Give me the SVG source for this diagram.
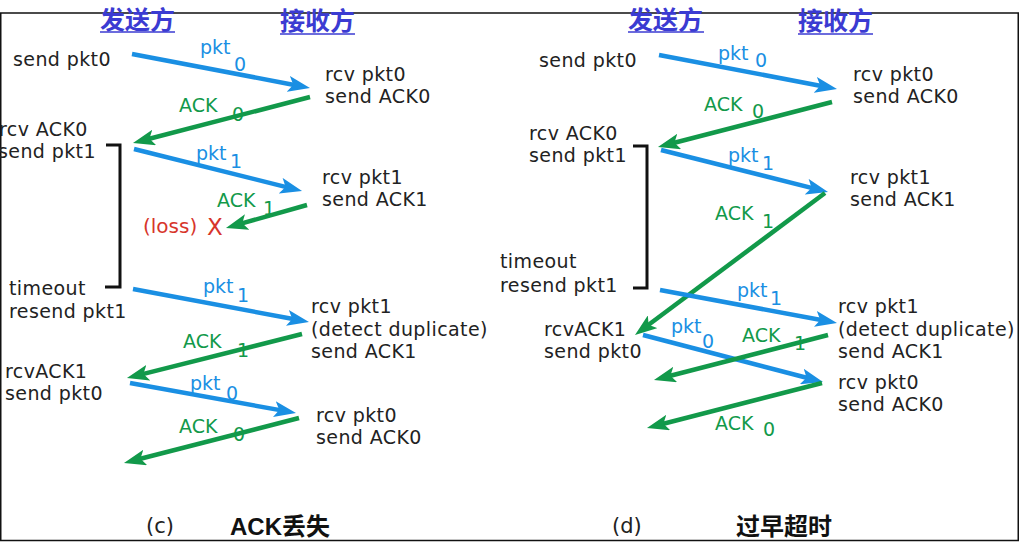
<svg xmlns="http://www.w3.org/2000/svg" width="1023" height="547" viewBox="0 0 1023 547">
<style>
.t{font-family:"DejaVu Sans","Liberation Sans",sans-serif;font-size:19px;letter-spacing:0.4px;fill:#222}
.b{font-family:"DejaVu Sans","Liberation Sans",sans-serif;font-size:19px;fill:#1a8fe3}
.g{font-family:"DejaVu Sans","Liberation Sans",sans-serif;font-size:19px;fill:#12994a}
.h{font-family:"Noto Sans CJK SC",sans-serif;font-size:25px;font-weight:bold;fill:#3b3bd2}
.cap{font-family:"Liberation Sans","Noto Sans CJK SC",sans-serif;font-size:24px;font-weight:bold;fill:#111}
.pc{font-family:"DejaVu Sans","Liberation Sans",sans-serif;font-size:21px;fill:#222}
.lb{stroke:#1a8fe3;stroke-width:4.5;fill:none}
.lg{stroke:#12994a;stroke-width:4.5;fill:none}
.br{stroke:#111;stroke-width:3;fill:none}
</style>
<defs>
<marker id="ab" markerUnits="userSpaceOnUse" viewBox="0 0 22 16" markerWidth="22" markerHeight="16" refX="10" refY="8" orient="auto"><path d="M0,0 L22,8 L0,16 L5,8 Z" fill="#1a8fe3"/></marker>
<marker id="ag" markerUnits="userSpaceOnUse" viewBox="0 0 22 16" markerWidth="22" markerHeight="16" refX="10" refY="8" orient="auto"><path d="M0,0 L22,8 L0,16 L5,8 Z" fill="#12994a"/></marker>
</defs>
<rect x="0.75" y="13" width="1017.5" height="527.5" fill="#fff" stroke="#111" stroke-width="1.5"/>

<g id="headers">
<text class="h" x="100" y="29">发送方</text><line x1="100" y1="32" x2="175" y2="32" stroke="#3b3bd2" stroke-width="1.5"/>
<text class="h" x="280" y="30">接收方</text><line x1="280" y1="34" x2="355" y2="34" stroke="#3b3bd2" stroke-width="1.5"/>
<text class="h" x="628" y="29">发送方</text><line x1="628" y1="32" x2="704" y2="32" stroke="#3b3bd2" stroke-width="1.5"/>
<text class="h" x="798" y="30">接收方</text><line x1="798" y1="34" x2="873" y2="34" stroke="#3b3bd2" stroke-width="1.5"/>
</g>

<g id="connectors">
<line class="lb" x1="132" y1="54" x2="298.2" y2="85.7" marker-end="url(#ab)"/>
<line class="lg" x1="310" y1="97" x2="144.6" y2="140" marker-end="url(#ag)"/>
<line class="lb" x1="134" y1="149" x2="290.4" y2="188.1" marker-end="url(#ab)"/>
<line class="lg" x1="307" y1="205" x2="237.5" y2="224.7" marker-end="url(#ag)"/>
<line class="lb" x1="133" y1="289" x2="297.2" y2="319.8" marker-end="url(#ab)"/>
<line class="lg" x1="302" y1="334" x2="138.6" y2="375.1" marker-end="url(#ag)"/>
<line class="lb" x1="130" y1="383" x2="284.2" y2="410.9" marker-end="url(#ab)"/>
<line class="lg" x1="299" y1="418" x2="135.6" y2="460" marker-end="url(#ag)"/>
<line class="lb" x1="659" y1="55" x2="825.2" y2="86.7" marker-end="url(#ab)"/>
<line class="lg" x1="832" y1="102" x2="669.6" y2="144" marker-end="url(#ag)"/>
<line class="lb" x1="661" y1="150" x2="816.4" y2="189.1" marker-end="url(#ab)"/>
<line class="lg" x1="825" y1="193" x2="644.6" y2="327.8" marker-end="url(#ag)"/>
<line class="lb" x1="660" y1="290" x2="825.2" y2="320.8" marker-end="url(#ab)"/>
<line class="lb" x1="643" y1="335" x2="811.4" y2="379" marker-end="url(#ab)"/>
<line class="lg" x1="828" y1="335" x2="665.6" y2="377" marker-end="url(#ag)"/>
<line class="lg" x1="822" y1="383" x2="658.6" y2="425" marker-end="url(#ag)"/>
</g>

<g id="labels">
<text class="b" x="200" y="54">pkt</text><text class="b" x="234" y="71">0</text>
<text class="g" x="179" y="112">ACK</text><text class="g" x="232" y="121">0</text>
<text class="b" x="196" y="160">pkt</text><text class="b" x="230" y="168">1</text>
<text class="g" x="217" y="207">ACK</text><text class="g" x="263" y="215">1</text>
<text class="b" x="203" y="293">pkt</text><text class="b" x="237" y="302">1</text>
<text class="g" x="183" y="348">ACK</text><text class="g" x="237" y="357">1</text>
<text class="b" x="190" y="390">pkt</text><text class="b" x="226" y="400">0</text>
<text class="g" x="179" y="433">ACK</text><text class="g" x="233" y="441">0</text>

<text class="b" x="718" y="60">pkt</text><text class="b" x="755" y="67">0</text>
<text class="g" x="704" y="111">ACK</text><text class="g" x="752" y="118">0</text>
<text class="b" x="728" y="162">pkt</text><text class="b" x="762" y="170">1</text>
<text class="g" x="715" y="220">ACK</text><text class="g" x="762" y="228">1</text>
<text class="b" x="737" y="297">pkt</text><text class="b" x="770" y="305">1</text>
<text class="b" x="671" y="333">pkt</text><text class="b" x="702" y="348">0</text>
<text class="g" x="742" y="342">ACK</text><text class="g" x="794" y="350">1</text>
<text class="g" x="715" y="430">ACK</text><text class="g" x="763" y="436">0</text>
</g>

<g id="sender-c">
<text class="t" x="13" y="66">send pkt0</text>
<text class="t" x="-1" y="136">rcv ACK0</text>
<text class="t" x="-2" y="158">send pkt1</text>
<text class="t" x="9" y="295">timeout</text>
<text class="t" x="9" y="318">resend pkt1</text>
<text class="t" x="5" y="378">rcvACK1</text>
<text class="t" x="5" y="400">send pkt0</text>
<polyline class="br" points="106,145 120,145 120,287 105,287"/>
</g>
<g id="receiver-c">
<text class="t" x="325" y="81">rcv pkt0</text>
<text class="t" x="325" y="103">send ACK0</text>
<text class="t" x="322" y="184">rcv pkt1</text>
<text class="t" x="322" y="206">send ACK1</text>
<text class="t" x="311" y="313">rcv pkt1</text>
<text class="t" x="311" y="335.5">(detect duplicate)</text>
<text class="t" x="311" y="358">send ACK1</text>
<text class="t" x="316" y="422">rcv pkt0</text>
<text class="t" x="316" y="444">send ACK0</text>
</g>
<g id="loss">
<text x="143" y="233" style="font-family:'DejaVu Sans',sans-serif;font-size:20px;fill:#d7352b">(loss)</text>
<text x="207" y="235" style="font-family:'DejaVu Sans',sans-serif;font-size:23px;fill:#d7352b">X</text>
</g>

<g id="sender-d">
<text class="t" x="539" y="67">send pkt0</text>
<text class="t" x="529" y="140">rcv ACK0</text>
<text class="t" x="529" y="162">send pkt1</text>
<text class="t" x="500" y="268">timeout</text>
<text class="t" x="500" y="292">resend pkt1</text>
<text class="t" x="544" y="336">rcvACK1</text>
<text class="t" x="544" y="358">send pkt0</text>
<polyline class="br" points="633,146 647,146 647,288 633,288"/>
</g>
<g id="receiver-d">
<text class="t" x="853" y="81">rcv pkt0</text>
<text class="t" x="853" y="103">send ACK0</text>
<text class="t" x="850" y="184">rcv pkt1</text>
<text class="t" x="850" y="206">send ACK1</text>
<text class="t" x="838" y="313">rcv pkt1</text>
<text class="t" x="838" y="335.5">(detect duplicate)</text>
<text class="t" x="838" y="358">send ACK1</text>
<text class="t" x="838" y="389">rcv pkt0</text>
<text class="t" x="838" y="411">send ACK0</text>
</g>

<g id="captions">
<text class="pc" x="146" y="533">(c)</text>
<text class="cap" x="230" y="535">ACK丢失</text>
<text class="pc" x="612" y="533">(d)</text>
<text class="cap" x="736" y="535">过早超时</text>
</g>
</svg>
